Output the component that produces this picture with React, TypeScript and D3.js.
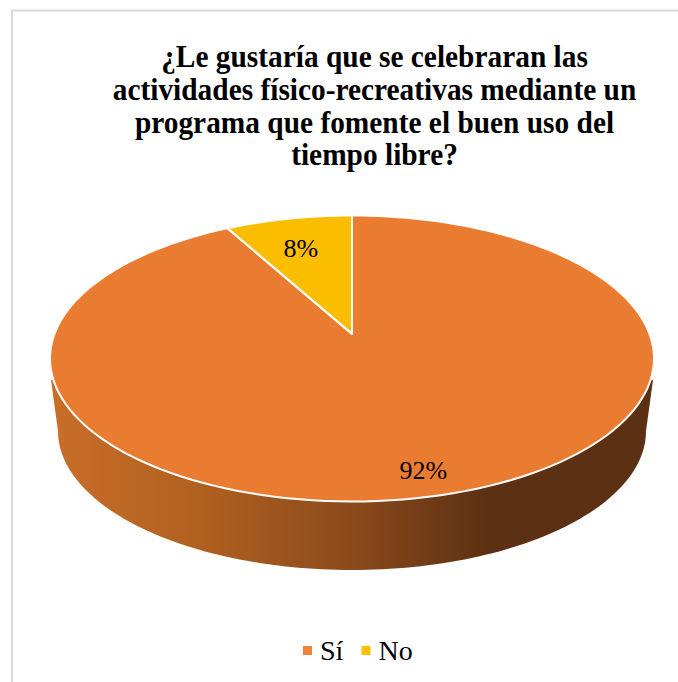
import React from "react";
import * as d3 from "d3";

const categories = ["Sí", "No"];
const shares = [92, 8];
const sliceColors = ["#EA7C32", "#FBBD00"];
const legendColors = ["#F08138", "#FFC000"];
const titleLines = [
  "¿Le gustaría que se celebraran las",
  "actividades físico-recreativas mediante un",
  "programa que fomente el buen uso del",
  "tiempo libre?",
];

const WIDTH = 678;
const HEIGHT = 682;
const SERIF = '"Liberation Serif", "Times New Roman", serif';

// Top face: a tilted disc whose apex sits above the centre of its outline.
const apex = { x: 352, y: 334 };
const farEdge = 118.5;
const nearEdge = 167.5;
const halfWidth = 302;
const tilt = (nearEdge - farEdge) / (nearEdge + farEdge);
const depthScale = farEdge * (1 + tilt);
const widthScale = halfWidth * Math.sqrt(1 - tilt * tilt);

const project = (angle: number, r = 1): [number, number] => {
  const u = Math.sin(angle) * r;
  const v = Math.cos(angle) * r;
  const w = 1 + tilt * v;
  return [apex.x + (widthScale * u) / w, apex.y - (depthScale * v) / w];
};

const outline = d3.line().curve(d3.curveLinear);
const arcPoints = (a0: number, a1: number) =>
  d3.range(0, 161).map((i) => project(a0 + ((a1 - a0) * i) / 160));

const pie = d3.pie<number>().sort(null);
const slices = pie(shares);

const slicePath = (a0: number, a1: number) =>
  outline([[apex.x, apex.y], ...arcPoints(a0, a1)] as [number, number][]) + "Z";

// Side wall between the visible rim of the disc and a narrower lower rim.
const wallPath = () => {
  const cx = apex.x;
  const lower = { cy: 431, rx: 294, ry: 139 };
  const upperY = 380;
  const lowerPoints = d3.range(0, 121).map((i) => {
    const t = Math.PI - (Math.PI * i) / 120;
    return [cx + lower.rx * Math.cos(t), lower.cy + lower.ry * Math.sin(t)] as [number, number];
  });
  return (
    outline([[cx - halfWidth + 1, upperY], ...lowerPoints, [cx + halfWidth - 1, upperY]] as [number, number][]) + "Z"
  );
};

const labelPositions = slices.map((s, i) => {
  const mid = (s.startAngle + s.endAngle) / 2;
  const [x, y] = project(mid, i === 0 ? 0.83 : 0.78);
  return { x, y: y + 6.5, text: `${shares[i]}%` };
});

export default function App() {
  return (
    <svg
      width={WIDTH}
      height={HEIGHT}
      viewBox={`0 0 ${WIDTH} ${HEIGHT}`}
      style={{ position: "absolute", left: 0, top: 0, background: "#fff" }}
    >
      <defs>
        <linearGradient id="wallShade" gradientUnits="userSpaceOnUse" x1={51} x2={653} y1={0} y2={0}>
          <stop offset="0" stopColor="#C96E2A" />
          <stop offset="0.25" stopColor="#B0601F" />
          <stop offset="0.5" stopColor="#8B4A1C" />
          <stop offset="0.73" stopColor="#5C3012" />
          <stop offset="1" stopColor="#5C3012" />
        </linearGradient>
      </defs>

      <path d="M12 682V10.5H678" fill="none" stroke="#D9D9D9" strokeWidth={2} />

      <g transform="translate(374.5 0) scale(0.948 1)" fontFamily={SERIF} fontWeight="bold" fontSize={31} textAnchor="middle" fill="#000">
        {titleLines.map((line, i) => (
          <text key={line} x={0} y={67 + i * 32.8}>
            {line}
          </text>
        ))}
      </g>

      <path d={wallPath()} fill="url(#wallShade)" />
      {slices.map((s, i) => (
        <path key={categories[i]} d={slicePath(s.startAngle, s.endAngle)} fill={sliceColors[i]} />
      ))}
      {slices.map((s, i) => (
        <path
          key={categories[i]}
          d={slicePath(s.startAngle, s.endAngle)}
          fill="none"
          stroke="#fff"
          strokeWidth={2}
          strokeLinejoin="round"
        />
      ))}

      <g fontFamily={SERIF} fontSize={26} textAnchor="middle" fill="#000">
        {labelPositions.map((l) => (
          <text key={l.text} x={l.x} y={l.y + 9}>
            {l.text}
          </text>
        ))}
      </g>

      <g fontFamily={SERIF} fontSize={28} fill="#000">
        {categories.map((c, i) => {
          const x = 303 + i * 58.5;
          return (
            <g key={c}>
              <rect x={x} y={646} width={9} height={9} fill={legendColors[i]} />
              <text x={x + 17} y={660}>
                {c}
              </text>
            </g>
          );
        })}
      </g>
    </svg>
  );
}
